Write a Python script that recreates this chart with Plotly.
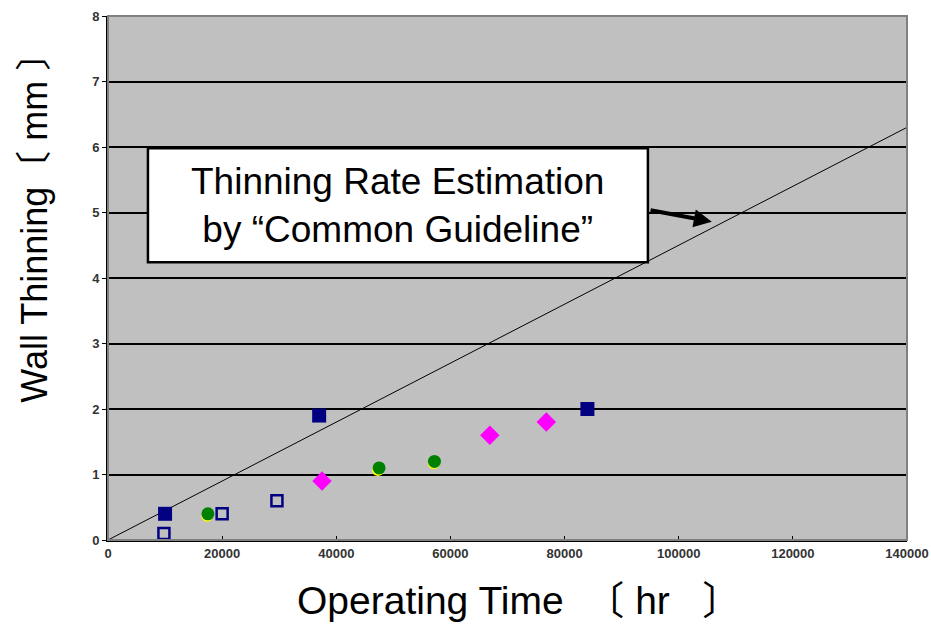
import plotly.graph_objects as go

# Data
filled_sq_x = [10000, 37000, 84000]
filled_sq_y = [0.4, 1.9, 2.0]
open_sq_x = [9800, 20000, 29600]
open_sq_y = [0.1, 0.4, 0.6]
yellow_x = [17400, 47300, 57100]
yellow_y = [0.37, 1.07, 1.17]
green_x = [17500, 47500, 57200]
green_y = [0.4, 1.1, 1.2]
diamond_x = [37500, 66900, 76800]
diamond_y = [0.9, 1.6, 1.8]
guide_x = [0, 140000]
guide_y = [0, 6.3]
x_ticks = [0, 20000, 40000, 60000, 80000, 100000, 120000, 140000]
y_ticks = [0, 1, 2, 3, 4, 5, 6, 7, 8]
box_text = "Thinning Rate Estimation<br>by \u201cCommon Guideline\u201d"
x_title = "Operating Time\u00a0\u00a0\u3014 hr\u00a0\u00a0\u00a0\u3015"
y_title = "Wall Thinning\u3014 mm \u3015"

FONT = "Liberation Sans, Arial, Noto Sans CJK JP, sans-serif"

fig = go.Figure()
fig.add_trace(go.Scatter(x=guide_x, y=guide_y, mode="lines",
                         line=dict(color="black", width=1), showlegend=False, hoverinfo="skip"))
fig.add_trace(go.Scatter(x=open_sq_x, y=open_sq_y, mode="markers",
                         marker=dict(symbol="square-open", size=11, color="#000080",
                                     line=dict(width=2.5, color="#000080")), showlegend=False))
fig.add_trace(go.Scatter(x=yellow_x, y=yellow_y, mode="markers",
                         marker=dict(symbol="circle", size=12, color="#ffff00", line=dict(width=0)),
                         showlegend=False))
fig.add_trace(go.Scatter(x=green_x, y=green_y, mode="markers",
                         marker=dict(symbol="circle", size=13, color="#008000", line=dict(width=0)),
                         showlegend=False))
fig.add_trace(go.Scatter(x=diamond_x, y=diamond_y, mode="markers",
                         marker=dict(symbol="diamond", size=15, color="#ff00ff", line=dict(width=0)),
                         showlegend=False))
fig.add_trace(go.Scatter(x=filled_sq_x, y=filled_sq_y, mode="markers",
                         marker=dict(symbol="square", size=14, color="#000080", line=dict(width=0)),
                         showlegend=False))

# text box
fig.add_shape(type="rect", xref="x", yref="y", x0=7000, x1=94600, y0=4.24, y1=5.98,
              fillcolor="white", line=dict(color="black", width=2.5), layer="above")
fig.add_annotation(x=50800, y=5.11, xref="x", yref="y", text=box_text, showarrow=False,
                   font=dict(family=FONT, size=37, color="black"), align="center")
# arrow
fig.add_annotation(x=105800, y=4.86, ax=94800, ay=5.04, xref="x", yref="y", axref="x", ayref="y",
                   text="", showarrow=True, arrowhead=2, arrowsize=0.9, arrowwidth=4,
                   arrowcolor="black")

# axis titles
fig.add_annotation(x=0.515, y=-0.116, xref="paper", yref="paper", text=x_title,
                   showarrow=False, xanchor="center", yanchor="middle",
                   font=dict(family=FONT, size=39, color="black"))
fig.add_annotation(x=-0.0914, y=0.613, xref="paper", yref="paper", text=y_title,
                   showarrow=False, xanchor="center", yanchor="middle", textangle=-90,
                   font=dict(family=FONT, size=36, color="black"))

# plot border (gray right/top)
fig.add_shape(type="rect", xref="paper", yref="paper", x0=0, x1=1, y0=0, y1=1,
              line=dict(color="#808080", width=2), layer="above")

fig.update_layout(
    width=931, height=625,
    margin=dict(l=108, r=24, t=16, b=85, autoexpand=False),
    paper_bgcolor="white", plot_bgcolor="#c0c0c0",
    font=dict(family=FONT),
    xaxis=dict(range=[0, 140000], tickvals=x_ticks, ticktext=[str(v) for v in x_ticks],
               showgrid=False, zeroline=False, showline=True, linecolor="black", linewidth=2,
               ticks="inside", ticklen=4, tickcolor="black", ticklabeloverflow="allow",
               tickfont=dict(family=FONT, size=13, color="#333", weight="bold")),
    yaxis=dict(range=[0, 8], tickvals=y_ticks, ticktext=[str(v) for v in y_ticks],
               showgrid=True, gridcolor="black", gridwidth=1.5, zeroline=False,
               showline=True, linecolor="black", linewidth=2,
               ticks="outside", ticklen=4, tickcolor="black",
               tickfont=dict(family=FONT, size=13, color="#333", weight="bold")),
)

fig.write_html("out.html", config={"displayModeBar": False},
               post_script="document.body.style.margin='0';document.body.style.overflow='hidden';")
